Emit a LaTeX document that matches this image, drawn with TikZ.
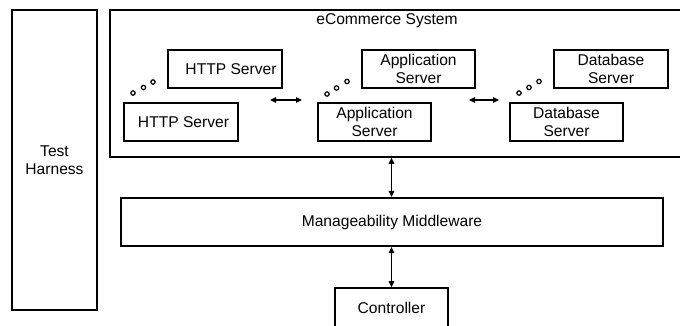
\documentclass[tikz,border=0pt]{standalone}
\usepackage{fontspec}
\setmainfont{Liberation Sans}
\usetikzlibrary{arrows.meta}
\begin{document}
\begin{tikzpicture}[x=1pt,y=-1pt,
  box/.style={draw=black,line width=1.6pt,fill=white,inner sep=0pt,align=center,
    font=\fontsize{15.6}{18}\selectfont},
  lbl/.style={inner sep=0pt,align=center,font=\fontsize{15.6}{18}\selectfont},
  dot/.style={draw=black,line width=1.2pt,fill=white},
  conn/.style={line width=1.3pt,{Triangle[length=6pt,width=5.5pt]}-{Triangle[length=6pt,width=5.5pt]}}]
\useasboundingbox (0,0) rectangle (680,325);
\clip (0,0) rectangle (680,325);
% Test harness
\node[box,minimum width=85pt,minimum height=300pt] (th) at (54.5,160) {};
\node[lbl] (thl) at (54.5,160) {Test\\Harness};
% eCommerce system (open to the right)
\node[box,minimum width=580pt,minimum height=147pt] (ecom) at (400,83.5) {};
\node[lbl] (ecl) at (387,21) {eCommerce System};
% HTTP servers
\node[box,minimum width=114pt,minimum height=38pt] (h2) at (225,69) {\hspace{12pt}HTTP Server};
\node[box,minimum width=114pt,minimum height=38pt] (h1) at (181,122) {\hspace{5pt}HTTP Server};
% Application servers
\node[box,minimum width=113pt,minimum height=38pt] (a2) at (418.5,69) {Application\\Server};
\node[box,minimum width=113pt,minimum height=38pt] (a1) at (374.5,122) {Application\\Server};
% Database servers
\node[box,minimum width=114pt,minimum height=38pt] (d2) at (611,69) {Database\\Server};
\node[box,minimum width=113pt,minimum height=38pt] (d1) at (566.5,122) {Database\\Server};
% dots
\foreach \x/\y in {133/93,143.5/87.5,153/82, 327/94,336.5/88,347/81.5, 519/93,529/87.5,539/81.5}
  \draw[dot] (\x,\y) circle (2.2pt);
% horizontal arrows
\coordinate (p1) at (270,100);
\coordinate (p2) at (302,100);
\coordinate (q1) at (469,100);
\coordinate (q2) at (499,100);
\draw[conn] (p1) -- (p2);
\draw[conn] (q1) -- (q2);
% middleware
\node[box,minimum width=542pt,minimum height=48.5pt] (mw) at (392,222) {Manageability Middleware};
% controller
\node[box,minimum width=113pt,minimum height=40pt] (ctrl) at (391.5,308) {Controller};
\draw[conn] (ctrl.north |- ecom.south) -- (ctrl.north |- mw.north);
\draw[conn] (ctrl.north |- mw.south) -- (ctrl.north);
\end{tikzpicture}
\end{document}
